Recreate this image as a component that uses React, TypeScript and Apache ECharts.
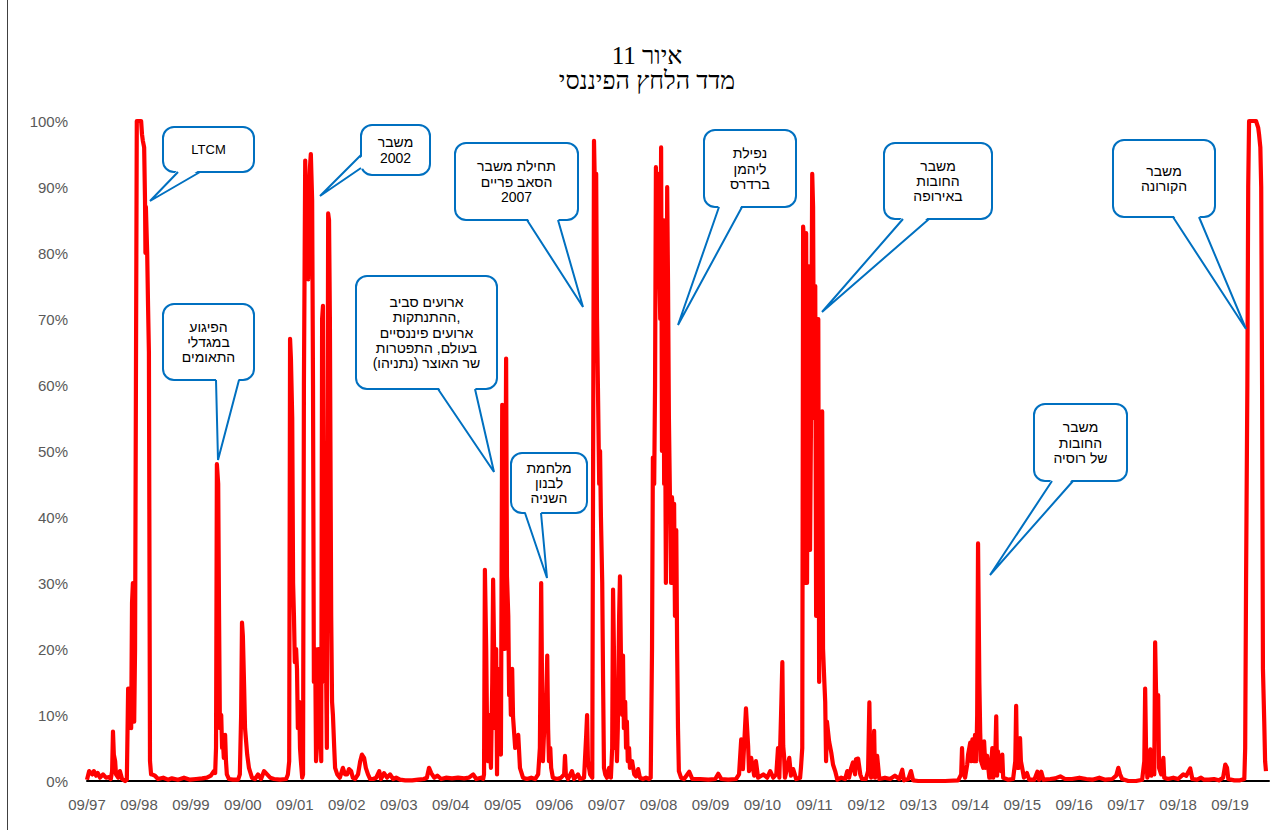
import React, { useEffect, useRef } from "react";
import * as echarts from "echarts";

// x = months since September 1997, y = financial stress index (%)
const era1997_2000: [number, number][] = [
  [0.0, 0.2], [0.5, 1.5], [1.2, 1.0], [1.6, 1.5], [2.1, 0.8], [2.5, 1.2], [3.0, 0.5], [3.7, 1.0], [4.4, 0.5], [5.1, 0.6],
  [5.5, 0.3], [5.8, 1.5], [6.0, 7.5], [6.2, 4], [6.5, 3], [6.7, 1], [7.2, 0.5], [7.6, 1.5], [8.1, 0.3], [8.8, 0],
  [9.2, 0.2], [9.5, 14], [9.7, 10], [9.9, 14], [10.2, 8], [10.4, 27], [10.6, 30], [10.9, 9], [11.1, 20], [11.3, 60],
  [11.5, 100], [12.2, 100], [12.5, 100], [12.7, 98], [12.9, 97], [13.2, 96], [13.4, 88], [13.5, 80], [13.6, 87], [13.9, 80],
  [14.1, 72], [14.3, 65], [14.55, 3], [14.8, 1],
  [15.0, 1.0], [15.7, 0.8], [16.4, 0.3], [17.6, 0.5], [18.7, 0.2], [19.6, 0.4], [21.0, 0.2], [22.4, 0.5], [23.8, 0.2],
  [25.2, 0.3], [26.6, 0.4], [27.7, 0.5], [28.6, 0.8], [29.3, 1.5], [29.6, 1.2],
  [29.8, 5], [30.0, 48], [30.3, 45], [30.5, 25], [30.7, 8], [31.0, 10], [31.2, 5], [31.4, 6], [31.6, 3.5], [31.9, 7],
  [32.1, 3], [32.3, 1], [32.8, 0.3], [33.7, 0.2], [34.9, 0.2], [35.3, 1], [35.6, 10], [35.8, 24], [36.0, 22], [36.3, 14],
  [36.5, 8], [37.0, 4], [37.4, 2], [38.1, 0.5], [38.8, 0.3], [39.5, 1], [40.2, 0.3], [40.9, 1.5], [41.6, 1], [42.3, 0.5],
  [43.2, 0.3], [44.6, 0.2], [46.0, 0.3], [46.4, 1],
];

const era2001_2004: [number, number][] = [
  [46.7, 3], [46.9, 67], [47.1, 64], [47.4, 55], [47.6, 30], [47.8, 25], [48.0, 18], [48.3, 20], [48.5, 17], [48.7, 8],
  [49.0, 12], [49.2, 5], [49.4, 3], [49.7, 0.5], [49.9, 1], [50.1, 60], [50.4, 94], [50.6, 85], [50.8, 88], [51.1, 76],
  [51.3, 90], [51.5, 93], [51.7, 95], [52.0, 88], [52.2, 60], [52.4, 15], [52.7, 20], [52.9, 3], [53.1, 5], [53.4, 20],
  [53.6, 12], [53.8, 20], [54.1, 3], [54.3, 70], [54.5, 72], [54.7, 30], [55.0, 15], [55.2, 18], [55.4, 5], [55.7, 86],
  [55.9, 85], [56.1, 70], [56.4, 25], [56.6, 12], [56.8, 10], [57.1, 5], [57.3, 2], [57.8, 1], [58.4, 0.5], [59.1, 2],
  [59.6, 1],
  [60.1, 1], [60.5, 1.8], [61.0, 1.5], [61.4, 0.5], [61.9, 0.3], [62.6, 1], [63.1, 3], [63.5, 4], [64.0, 3.5], [64.4, 2],
  [64.9, 1], [65.4, 0.3], [66.1, 0.3], [66.8, 0.5], [67.5, 1.5], [67.9, 0.3], [68.6, 1.2], [69.3, 0.5], [70.0, 1], [70.7, 0.3],
  [71.4, 0.5], [72.3, 0.2], [73.5, 0.1], [75.1, 0.1], [76.5, 0.2], [77.8, 0.3], [78.5, 0.5], [79.0, 2], [79.5, 1.2], [80.2, 0.5],
  [80.9, 0.8], [81.8, 0.3], [82.9, 0.5], [84.3, 0.4], [85.7, 0.5], [87.1, 0.4], [88.2, 0.5], [89.2, 1.0], [89.9, 0.3], [91.0, 0.5],
  [91.5, 0.3],
];

const era2005_2008: [number, number][] = [
  [91.7, 1], [91.9, 32], [92.2, 20], [92.4, 8], [92.6, 3], [92.9, 10], [93.1, 5], [93.3, 2], [93.6, 15], [93.8, 30.5],
  [94.0, 21], [94.2, 8], [94.5, 20], [94.7, 1], [94.9, 17], [95.2, 6], [95.4, 10], [95.6, 4], [95.9, 57], [96.1, 35],
  [96.3, 45], [96.5, 20], [96.8, 64], [97.0, 31], [97.3, 25], [97.5, 13], [97.7, 16], [97.9, 10], [98.2, 17], [98.4, 9.7],
  [98.9, 5], [99.3, 6], [99.6, 7], [100.0, 2], [100.7, 0.5], [101.6, 0.3], [102.6, 0.5], [103.5, 0.3], [104.2, 1], [104.6, 5],
  [104.9, 30], [105.1, 15], [105.3, 3], [105.6, 8], [105.8, 13], [106.0, 10], [106.3, 19], [106.5, 8], [106.7, 3], [107.0, 5],
  [107.2, 2], [107.6, 0.5], [108.6, 0.3], [109.5, 0.5], [110.2, 1], [110.4, 3.8], [110.6, 1], [111.1, 0.3], [112.0, 1.5], [112.5, 0.3],
  [113.4, 1], [113.9, 0.3], [114.8, 0.5], [115.3, 7], [115.5, 10], [115.7, 3], [116.2, 1], [116.7, 0.5],
  [116.9, 50], [117.1, 97], [117.3, 90], [117.6, 92], [117.8, 70], [118.0, 60], [118.3, 45], [118.5, 50], [118.7, 40], [119.0, 30],
  [119.2, 15], [119.4, 2], [119.7, 1], [120.1, 0.5], [120.6, 2], [121.0, 0.5], [121.3, 5], [121.5, 29], [121.7, 20], [121.9, 5],
  [122.2, 10], [122.4, 3], [122.6, 8], [122.9, 25], [123.1, 31], [123.3, 20], [123.6, 10], [123.8, 19], [124.0, 8], [124.3, 12],
  [124.5, 5], [124.7, 9], [124.9, 3], [125.2, 5], [125.4, 2], [125.9, 3], [126.4, 1], [126.8, 0.7], [127.3, 1.8], [127.7, 0.5],
  [128.4, 0.3], [129.1, 0.5], [129.8, 0.3], [130.2, 0.5],
  [130.5, 20], [130.7, 49], [131.0, 45], [131.2, 60], [131.4, 93], [131.7, 75], [131.9, 92], [132.1, 80], [132.4, 70], [132.6, 96],
  [132.8, 50], [133.1, 85], [133.3, 45], [133.5, 60], [133.7, 30], [134.0, 90], [134.2, 75], [134.4, 55], [134.7, 40], [134.9, 30],
  [135.1, 43], [135.4, 40], [135.6, 42], [135.8, 25], [136.1, 38], [136.3, 20], [136.5, 8], [136.7, 1.5], [137.2, 0.5], [137.9, 0.3],
];

const era2009_2012: [number, number][] = [
  [139.1, 1.4], [139.8, 0.3], [141.6, 0.3], [143.5, 0.2], [145.1, 0.3], [145.8, 1.1], [146.5, 0.3], [148.1, 0.2], [149.9, 0.3], [150.6, 1],
  [151.1, 6.3], [151.5, 1.8], [152.2, 11], [152.7, 5.3], [152.9, 1.5], [153.4, 3.5], [154.1, 0.8], [154.5, 3], [155.0, 0.5], [156.2, 1],
  [157.1, 0.5], [157.8, 1.5], [158.5, 0.5], [159.2, 1], [159.6, 5], [159.9, 0.5], [160.3, 10], [160.6, 18], [160.8, 5.3], [161.0, 3.8],
  [161.2, 0.5], [162.2, 3.5], [162.6, 0.8], [163.1, 1.8], [163.8, 0.3], [164.7, 0.5], [164.9, 2],
  [165.2, 5], [165.4, 84], [165.6, 82], [165.9, 30], [166.1, 83], [166.3, 30], [166.6, 78], [166.8, 60], [167.0, 35], [167.2, 53],
  [167.5, 92], [167.7, 87], [167.9, 55], [168.2, 75], [168.4, 25], [168.6, 40], [168.9, 70], [169.1, 15], [169.3, 50], [169.6, 30],
  [169.8, 56], [170.0, 20], [170.3, 15], [170.5, 12], [170.7, 3], [170.9, 9], [171.4, 6], [171.9, 4.3], [172.3, 2.5], [172.8, 1.5],
  [173.3, 0.2],
  [174.2, 0.5], [175.1, 0.3], [175.6, 1.5], [176.0, 0.5], [176.5, 2], [176.9, 2.8], [177.4, 1], [177.6, 3.3], [178.1, 3.4], [178.6, 1],
  [179.0, 0.3], [179.9, 0.3], [180.4, 1.5], [180.7, 11.9], [180.9, 3], [181.1, 0.5], [181.6, 3], [181.8, 7.6], [182.0, 0.5], [182.5, 3.8],
  [183.0, 0.3],
];

const era2013_2016: [number, number][] = [
  [184.3, 0.5], [185.5, 0.3], [186.6, 0.8], [187.6, 0.3], [188.3, 1.7], [188.7, 0.1], [189.7, 0.3], [190.3, 1.5], [190.8, 0.1], [192.0, 0],
  [194.7, 0], [198.2, 0], [201.2, 0.1], [201.9, 1], [202.1, 5], [202.3, 1.5], [202.8, 0.5], [203.3, 2.5], [203.5, 4], [204.0, 5.8],
  [204.2, 3], [204.5, 6.3], [204.9, 3], [205.1, 7], [205.4, 3], [205.6, 10], [205.8, 36], [206.1, 15], [206.3, 7.3], [206.5, 3],
  [207.0, 2], [207.2, 6], [207.5, 2], [207.7, 3], [207.9, 3.8], [208.4, 0.5], [208.6, 0.5], [209.1, 5], [209.3, 0.5], [209.7, 1.5],
  [210.0, 9.8], [210.2, 0.8], [210.4, 4.5], [210.7, 2], [211.1, 1.5], [211.4, 4], [211.6, 0.5], [212.8, 0.2], [213.9, 0.3], [214.4, 3],
  [214.6, 11.4], [214.8, 2], [215.3, 2], [215.5, 6.5], [215.7, 3], [216.0, 2], [216.4, 0.5], [217.1, 1.2], [217.6, 0.2], [218.8, 0.2],
  [219.5, 1.4], [219.9, 0.2], [220.4, 1.4], [220.9, 0.2], [222.5, 0.3], [223.6, 0.4], [224.8, 0.7], [225.9, 0.3], [227.5, 0.3], [229.2, 0.5],
  [230.8, 0.3], [232.2, 0.2], [233.8, 0.5], [235.2, 0.2],
];

const era2017_2020: [number, number][] = [
  [236.8, 0.3], [237.7, 0.8], [238.2, 2], [238.6, 1], [239.1, 0.3], [240.5, 0], [242.3, 0], [243.7, 0.2], [244.2, 3], [244.4, 14],
  [244.6, 5], [244.9, 0.5], [245.3, 2], [245.6, 4.8], [245.8, 0.8], [246.2, 3.3], [246.5, 1], [246.7, 21], [246.9, 14], [247.2, 9],
  [247.4, 13], [247.6, 2], [248.1, 1], [248.6, 3.5], [248.8, 0.5], [249.7, 0.3], [250.9, 0.5], [252.0, 0.3], [253.2, 1], [253.9, 0.8],
  [254.8, 1.9], [255.3, 0.3], [256.4, 0.2], [257.3, 0.5], [258.0, 0.2], [259.1, 0.2], [260.3, 0.3], [261.4, 0.1], [262.4, 0.5], [262.9, 2.5],
  [263.3, 2], [263.6, 0.3], [265.0, 0.1], [266.3, 0.1], [267.3, 0.3], [267.5, 5], [267.7, 30], [268.0, 60], [268.2, 90], [268.4, 100],
  [269.3, 100], [270.0, 100], [270.5, 99], [270.7, 98], [271.0, 96], [271.2, 90], [271.4, 60], [271.6, 17], [271.9, 9], [272.1, 3],
  [272.3, 1.5],
];

const xTickLabels = [
  "09/97", "09/98", "09/99", "09/00", "09/01", "09/02", "09/03", "09/04", "09/05", "09/06", "09/07", "09/08",
  "09/09", "09/10", "09/11", "09/12", "09/13", "09/14", "09/15", "09/16", "09/17", "09/18", "09/19",
];

const titleLines = ["איור 11", "מדד הלחץ הפיננסי"];

type Callout = {
  lines: string[];
  x: number; y: number; w: number; h: number;
  tail: [number, number][];
  side: "bottom" | "left";
};

const callouts: Callout[] = [
  { lines: ["LTCM"], x: 163, y: 127, w: 91, h: 45, tail: [[178, 172], [150, 201], [200, 172]], side: "bottom" },
  { lines: ["הפיגוע", "במגדלי", "התאומים"], x: 163, y: 304, w: 91, h: 76, tail: [[216, 380], [218, 460], [239, 380]], side: "bottom" },
  { lines: ["משבר", "2002"], x: 361, y: 125, w: 69, h: 50, tail: [[361, 155], [320, 196], [361, 168]], side: "left" },
  { lines: ["תחילת משבר", "הסאב פריים", "2007"], x: 455, y: 143, w: 123, h: 77, tail: [[527, 220], [583, 307], [558, 220]], side: "bottom" },
  { lines: ["ארועים סביב", "ההתנתקות,", "ארועים פיננסיים", "בעולם, התפטרות", "שר האוצר (נתניהו)"], x: 356, y: 276, w: 141, h: 113, tail: [[438, 389], [494, 472], [475, 389]], side: "bottom" },
  { lines: ["מלחמת", "לבנון", "השניה"], x: 511, y: 453, w: 76, h: 60, tail: [[525, 513], [547, 578], [541, 513]], side: "bottom" },
  { lines: ["נפילת", "ליהמן", "ברדרס"], x: 704, y: 130, w: 92, h: 77, tail: [[719, 207], [678, 325], [742, 207]], side: "bottom" },
  { lines: ["משבר", "החובות", "באירופה"], x: 884, y: 143, w: 108, h: 76, tail: [[903, 219], [822, 312], [929, 219]], side: "bottom" },
  { lines: ["משבר", "החובות", "של רוסיה"], x: 1034, y: 404, w: 93, h: 77, tail: [[1052, 481], [990, 575], [1073, 481]], side: "bottom" },
  { lines: ["משבר", "הקורונה"], x: 1113, y: 140, w: 102, h: 77, tail: [[1173, 217], [1246, 329], [1199, 217]], side: "bottom" },
];

const BLUE = "#0070C0";
const SANS = '"Liberation Sans", "DejaVu Sans", Arial, sans-serif';
const SERIF = '"Liberation Serif", "DejaVu Serif", serif';

export default function App() {
  const ref = useRef<HTMLDivElement>(null);

  useEffect(() => {
    if (!ref.current) return;
    const chart = echarts.init(ref.current, null, { renderer: "svg" });
    const data = [...era1997_2000, ...era2001_2004, ...era2005_2008, ...era2009_2012, ...era2013_2016, ...era2017_2020];

    const graphics: any[] = [];
    graphics.push({
      type: "line", silent: true, z: 1,
      shape: { x1: 7.5, y1: 0, x2: 7.5, y2: 830 },
      style: { stroke: "#404040", lineWidth: 1 },
    });
    titleLines.forEach((t, i) => {
      graphics.push({
        type: "text", silent: true, z: 10,
        x: 647, y: 55 + i * 25,
        style: {
          text: t, fill: "#000", font: `25px ${SERIF}`,
          textAlign: "center", align: "center", textVerticalAlign: "middle", verticalAlign: "middle",
        },
      });
    });

    callouts.forEach((c) => {
      const [b1, tip, b2] = c.tail;
      const inset = (p: [number, number]): [number, number] =>
        c.side === "bottom" ? [p[0], p[1] - 2.5] : [p[0] + 2.5, p[1]];
      graphics.push({
        type: "rect", silent: true, z: 20,
        shape: { x: c.x, y: c.y, width: c.w, height: c.h, r: 11 },
        style: { fill: "#fff", stroke: BLUE, lineWidth: 2 },
      });
      graphics.push({
        type: "polygon", silent: true, z: 21,
        shape: { points: [inset(b1), tip, inset(b2)] },
        style: { fill: "#fff", stroke: null, lineWidth: 0 },
      });
      graphics.push({
        type: "polyline", silent: true, z: 22,
        shape: { points: [b1, tip, b2] },
        style: { fill: null, stroke: BLUE, lineWidth: 2, lineJoin: "miter" },
      });
      const cx = c.x + c.w / 2;
      const cy = c.y + c.h / 2;
      const lh = 15.3;
      c.lines.forEach((ln, i) => {
        const latin = /^[A-Z]+$/.test(ln);
        graphics.push({
          type: "text", silent: true, z: 23,
          x: cx, y: cy + (i - (c.lines.length - 1) / 2) * lh,
          style: {
            text: ln, fill: "#000", font: `${latin ? 13 : 14}px ${SANS}`,
            textAlign: "center", align: "center", textVerticalAlign: "middle", verticalAlign: "middle",
          },
        });
      });
    });

    chart.setOption({
      animation: false,
      backgroundColor: "#fff",
      grid: { left: 87, top: 121, width: 1182, height: 660, containLabel: false },
      xAxis: {
        type: "value", min: 0, max: 273, interval: 12,
        axisLine: { show: true, onZero: false, lineStyle: { color: "#000", width: 2 } },
        axisTick: { show: false },
        splitLine: { show: false },
        axisLabel: {
          margin: 16, color: "#595959", fontSize: 15, fontFamily: SANS,
          showMaxLabel: false,
          formatter: (v: number) => (v % 12 === 0 ? xTickLabels[v / 12] ?? "" : ""),
        },
      },
      yAxis: {
        type: "value", min: 0, max: 100, interval: 10,
        axisLine: { show: false },
        axisTick: { show: false },
        splitLine: { show: false },
        axisLabel: {
          margin: 19, color: "#595959", fontSize: 15, fontFamily: SANS,
          formatter: (v: number) => `${v}%`,
        },
      },
      series: [
        {
          type: "line",
          data,
          showSymbol: false,
          symbol: "none",
          clip: false,
          lineStyle: { color: "#FF0000", width: 4.2, join: "round" },
          z: 5,
        },
      ],
      graphic: { elements: graphics },
    });

    return () => chart.dispose();
  }, []);

  return (
    <div
      ref={ref}
      style={{ position: "fixed", left: 0, top: 0, width: 1271, height: 830, background: "#fff" }}
    />
  );
}
